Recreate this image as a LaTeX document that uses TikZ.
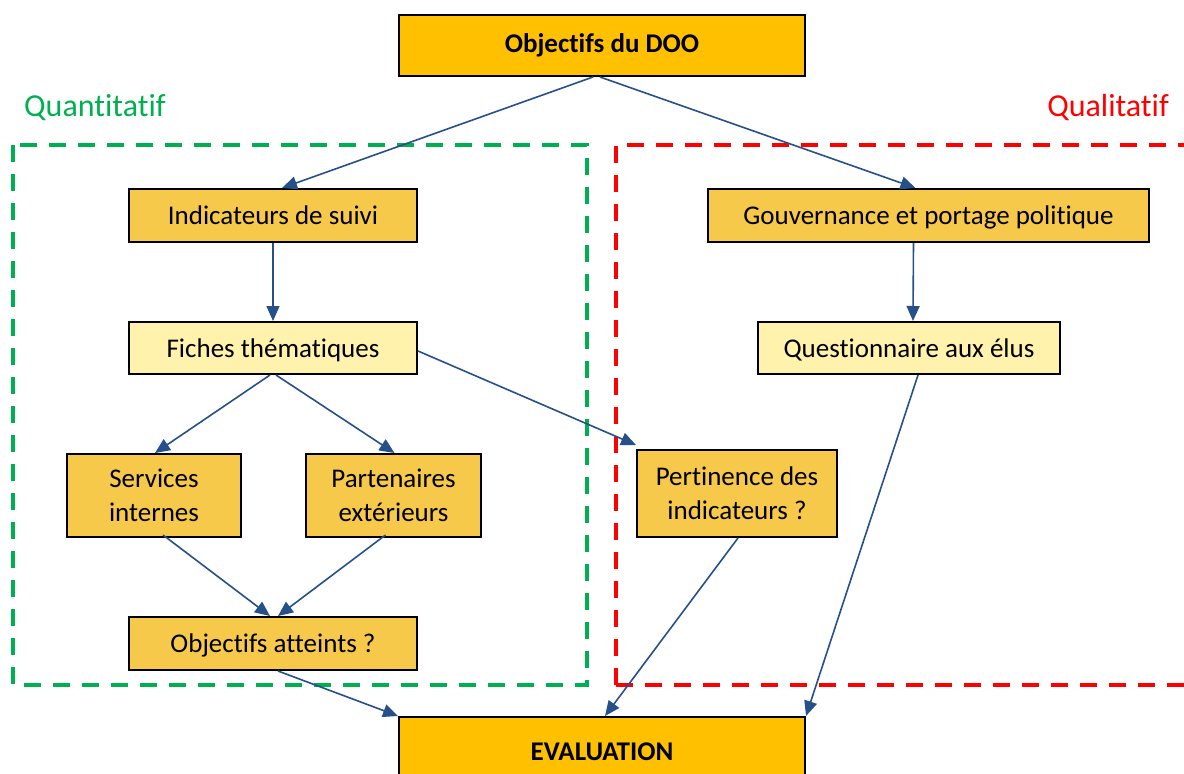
\documentclass[tikz,border=0pt]{standalone}
\usepackage{fontspec}
\setmainfont{Carlito}[Ligatures=NoCommon]
\usetikzlibrary{arrows.meta}
\definecolor{gold}{HTML}{FFC000}
\definecolor{midgold}{HTML}{F6C94B}
\definecolor{pale}{HTML}{FFF2AC}
\definecolor{arr}{HTML}{25508A}
\definecolor{qgreen}{HTML}{00B050}
\definecolor{qred}{HTML}{FF0000}
\tikzset{
  box/.style={draw=black, line width=2pt, inner sep=0pt, align=center,
    font=\fontsize{27}{34}\selectfont, text=black},
  boxgold/.style={box, fill=gold, font=\fontsize{27}{34}\selectfont\bfseries},
  boxmid/.style={box, fill=midgold},
  boxpale/.style={box, fill=pale},
  conn/.style={draw=arr, line width=1.6pt, -{Triangle[length=15pt,width=13pt]}},
  frame/.style={line width=4pt, dash pattern=on 17pt off 12pt},
  lowtext/.style={text depth=0pt},
}
\begin{document}
\begin{tikzpicture}[x=1pt,y=-1pt]
\useasboundingbox (0,0) rectangle (1184,774);
\clip (0,0) rectangle (1184,774);
% frames
\draw[frame, qgreen] (13,145) rectangle (587,685);
\draw[frame, qred] (616,685) -- (616,145) -- (1200,145);
\draw[frame, qred] (616,685) -- (1200,685);
\node[text=qgreen, font=\fontsize{32}{36}\selectfont, anchor=west, inner sep=0pt] (lq) at (24,108) {Quantitatif};
\node[text=qred, font=\fontsize{32}{36}\selectfont, anchor=east, inner sep=0pt] (lql) at (1169,108) {Qualitatif};
% nodes
\node[boxgold, minimum width=406, minimum height=61] (doo) at (602,45.5) {Objectifs du DOO};
\node[boxmid, lowtext, minimum width=288, minimum height=53] (ind) at (273,215.5) {Indicateurs de suivi};
\node[boxpale, lowtext, minimum width=288, minimum height=52] (fic) at (273,348) {Fiches thématiques};
\node[boxmid, lowtext, minimum width=174, minimum height=83] (ser) at (154,495.5) {Services\\internes};
\node[boxmid, lowtext, minimum width=175, minimum height=83] (par) at (393.5,495.5) {Partenaires\\extérieurs};
\node[boxmid, lowtext, minimum width=288, minimum height=53] (oba) at (273,643.5) {Objectifs atteints ?};
\node[boxmid, lowtext, minimum width=441, minimum height=53] (gov) at (928.5,215.5) {Gouvernance et portage politique};
\node[boxpale, lowtext, minimum width=302, minimum height=52] (que) at (909,348) {Questionnaire aux élus};
\node[boxmid, lowtext, minimum width=200, minimum height=87] (per) at (737,493.5) {Pertinence des\\indicateurs ?};
\node[boxgold, minimum width=406, minimum height=70] (eva) at (602,752) {EVALUATION};
% connectors
\draw[conn] ([xshift=-9]doo.south) -- ([xshift=9]ind.north);
\draw[conn] ([xshift=-2]doo.south) -- ([xshift=-13]gov.north);
\draw[conn] (ind.south) -- (fic.north);
\draw[conn] ([xshift=-3]fic.south) -- ([xshift=1]ser.north);
\draw[conn] ([xshift=3]fic.south) -- ([xshift=1]par.north);
\draw[conn] ([yshift=-3]fic.east) -- ([yshift=4]per.north west);
\draw[conn] ([xshift=9,yshift=3]ser.south) -- ([xshift=-3]oba.north);
\draw[conn] ([xshift=-8,yshift=3]par.south) -- ([xshift=5]oba.north);
\draw[conn] ([xshift=5]oba.south) -- (eva.north west);
\draw[conn] ([xshift=-15]gov.south) -- ([xshift=4]que.north);
\draw[conn] ([xshift=9]que.south) -- (eva.north east);
\draw[conn] ([xshift=1]per.south) -- ([xshift=3]eva.north);
\end{tikzpicture}
\end{document}
